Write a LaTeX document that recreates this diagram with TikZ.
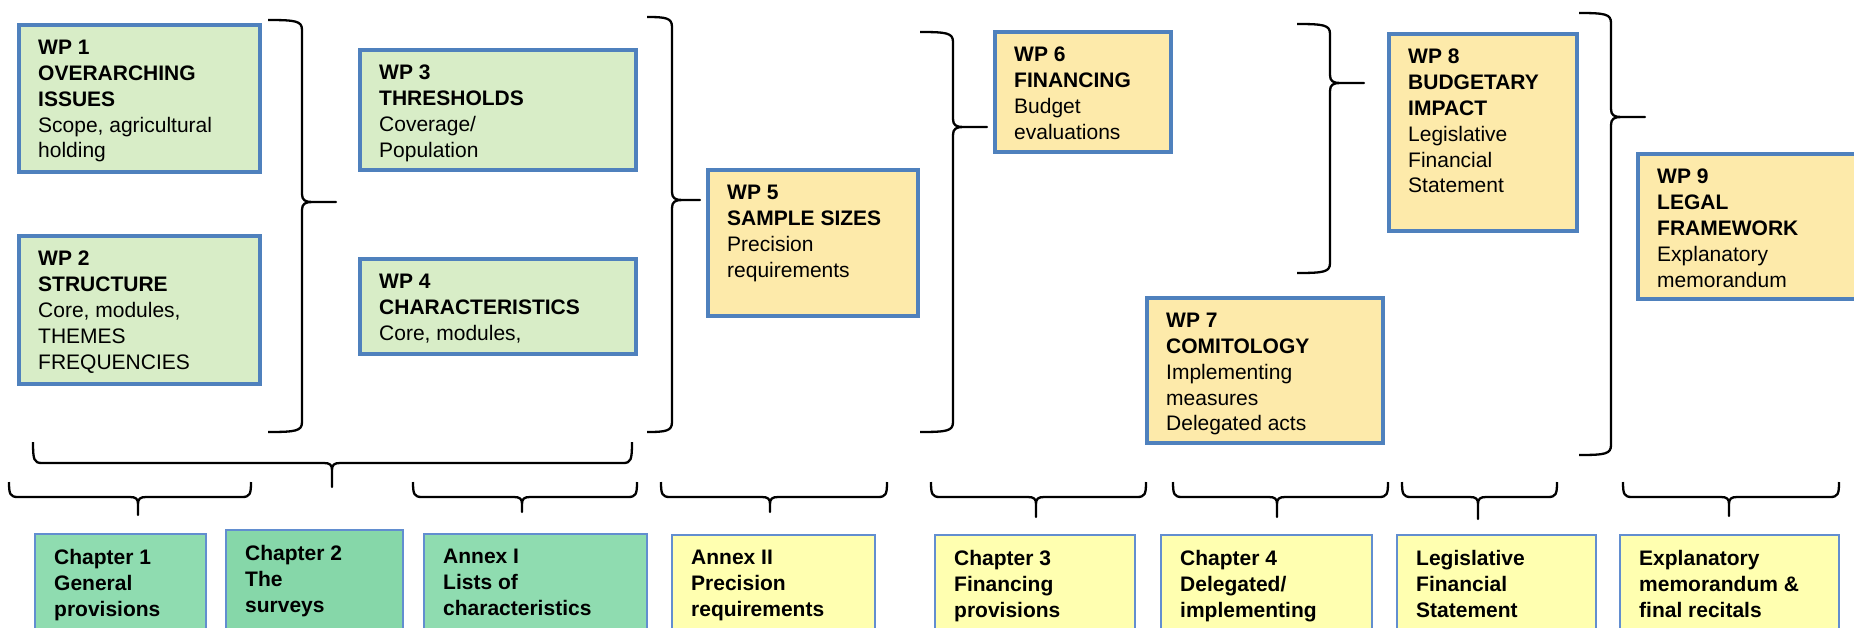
\documentclass[tikz,border=0pt]{standalone}
\usepackage{tikz}
\usepackage{fontspec}
\setmainfont{Liberation Sans}

\definecolor{wpblue}{RGB}{79,129,189}
\definecolor{wpgreen}{RGB}{216,237,199}
\definecolor{wpyellow}{RGB}{253,234,170}
\definecolor{chblue}{RGB}{98,142,208}
\definecolor{chgreen}{RGB}{143,220,176}
\definecolor{chgreendark}{RGB}{134,215,169}
\definecolor{chyellow}{RGB}{255,255,176}

% vertical brace: hook x, spine x, tip x, top y, tip y, bottom y
\newcommand{\wpbrace}[6]{%
  \draw[bracket] (#1,#4) .. controls ({#2-6},#4) and (#2,{#4+1}) .. (#2,{#4+10})
    -- (#2,{#5-8}) .. controls (#2,{#5-2}) and ({#2+3},#5) .. ({#2+10},#5) -- (#3,#5)
    -- ({#2+10},#5) .. controls ({#2+3},#5) and (#2,{#5+2}) .. (#2,{#5+8})
    -- (#2,{#6-10}) .. controls (#2,{#6-1}) and ({#2-6},#6) .. (#1,#6);}

% horizontal brace: left x, right x, tip x, top y, line y, tip y
\newcommand{\chbrace}[6]{%
  \draw[bracket] (#1,#4) .. controls (#1,{#5-3}) and ({#1+1},#5) .. ({#1+9},#5)
    -- ({#3-8},#5) .. controls ({#3-2},#5) and (#3,{#5+2}) .. (#3,{#5+7}) -- (#3,#6)
    -- (#3,{#5+7}) .. controls (#3,{#5+2}) and ({#3+2},#5) .. ({#3+8},#5)
    -- ({#2-9},#5) .. controls ({#2-1},#5) and (#2,{#5-3}) .. (#2,#4);}

\begin{document}
\begin{tikzpicture}[x=1pt,y=-1pt,
  wpbox/.style={draw=wpblue,line width=4pt,anchor=north west,inner sep=0pt,outer sep=0pt},
  chbox/.style={draw=chblue,line width=1.5pt,anchor=north west,inner sep=0pt,outer sep=0pt,
    minimum height=110pt},
  boxtext/.style={anchor=north west,align=left,inner sep=0pt,font=\fontsize{21}{25.8}\selectfont},
  bracket/.style={line width=2.3pt,line join=round}]

% Page
\useasboundingbox[fill=white] (0,0) rectangle (1854,627);
\clip (0,0) rectangle (1854,627);

% Work packages
\node[wpbox,fill=wpgreen,minimum width=241pt,minimum height=147pt] (wp1) at (19,25) {};
\node[boxtext] (wp1text) at ([shift={(19,15)}]wp1.north west)
  {\textbf{WP 1}\\\textbf{OVERARCHING}\\\textbf{ISSUES}\\Scope, agricultural\\holding};

\node[wpbox,fill=wpgreen,minimum width=241pt,minimum height=148pt] (wp2) at (19,236) {};
\node[boxtext] (wp2text) at ([shift={(19,15)}]wp2.north west)
  {\textbf{WP 2}\\\textbf{STRUCTURE}\\Core, modules,\\THEMES\\FREQUENCIES};

\node[wpbox,fill=wpgreen,minimum width=276pt,minimum height=120pt] (wp3) at (360,50) {};
\node[boxtext] (wp3text) at ([shift={(19,15)}]wp3.north west)
  {\textbf{WP 3}\\\textbf{THRESHOLDS}\\Coverage/\\Population};

\node[wpbox,fill=wpgreen,minimum width=276pt,minimum height=95pt] (wp4) at (360,259) {};
\node[boxtext] (wp4text) at ([shift={(19,15)}]wp4.north west)
  {\textbf{WP 4}\\\textbf{CHARACTERISTICS}\\Core, modules,};

\node[wpbox,fill=wpyellow,minimum width=210pt,minimum height=146pt] (wp5) at (708,170) {};
\node[boxtext] (wp5text) at ([shift={(19,15)}]wp5.north west)
  {\textbf{WP 5}\\\textbf{SAMPLE SIZES}\\Precision\\requirements};

\node[wpbox,fill=wpyellow,minimum width=176pt,minimum height=120pt] (wp6) at (995,32) {};
\node[boxtext] (wp6text) at ([shift={(19,15)}]wp6.north west)
  {\textbf{WP 6}\\\textbf{FINANCING}\\Budget\\evaluations};

\node[wpbox,fill=wpyellow,minimum width=236pt,minimum height=145pt] (wp7) at (1147,298) {};
\node[boxtext] (wp7text) at ([shift={(19,15)}]wp7.north west)
  {\textbf{WP 7}\\\textbf{COMITOLOGY}\\Implementing\\measures\\Delegated acts};

\node[wpbox,fill=wpyellow,minimum width=188pt,minimum height=197pt] (wp8) at (1389,34) {};
\node[boxtext] (wp8text) at ([shift={(19,15)}]wp8.north west)
  {\textbf{WP 8}\\\textbf{BUDGETARY}\\\textbf{IMPACT}\\Legislative\\Financial\\Statement};

\node[wpbox,fill=wpyellow,minimum width=260pt,minimum height=145pt] (wp9) at (1638,154) {};
\node[boxtext] (wp9text) at ([shift={(19,15)}]wp9.north west)
  {\textbf{WP 9}\\\textbf{LEGAL}\\\textbf{FRAMEWORK}\\Explanatory\\memorandum};

% Braces grouping the work packages
\wpbrace{268}{302}{336}{20}{202}{432}
\wpbrace{647}{672}{700}{17}{200}{432}
\wpbrace{920}{953}{987}{32}{127}{432}
\wpbrace{1297}{1330}{1364}{24}{83}{273}
\wpbrace{1579}{1611}{1645}{13}{117}{455}

% Braces over the parts of the act
\chbrace{33}{632}{332}{442}{463}{487}
\chbrace{9}{251}{138}{482}{497}{515}
\chbrace{413}{637}{522}{482}{497}{512}
\chbrace{661}{887}{770}{482}{497}{512}
\chbrace{931}{1146}{1036}{482}{497}{517}
\chbrace{1173}{1388}{1277}{482}{497}{517}
\chbrace{1402}{1557}{1478}{482}{497}{519}
\chbrace{1623}{1839}{1729}{482}{497}{516}

% Chapters and annexes
\node[chbox,fill=chgreen,minimum width=171pt] (ch1) at (35,534) {};
\node[boxtext,font=\fontsize{21}{25.8}\selectfont\bfseries] (ch1text) at ([shift={(19,15)}]ch1.north west)
  {Chapter 1\\General\\provisions};

\node[chbox,fill=chgreendark,minimum width=177pt] (ch2) at (226,530) {};
\node[boxtext,font=\fontsize{21}{25.8}\selectfont\bfseries] (ch2text) at ([shift={(19,15)}]ch2.north west)
  {Chapter 2\\The\\surveys};

\node[chbox,fill=chgreen,minimum width=223pt] (annex1) at (424,534) {};
\node[boxtext,font=\fontsize{21}{25.8}\selectfont\bfseries] (annex1text) at ([shift={(19,15)}]annex1.north west)
  {Annex I\\Lists of\\characteristics};

\node[chbox,fill=chyellow,minimum width=203pt] (annex2) at (672,535) {};
\node[boxtext,font=\fontsize{21}{25.8}\selectfont\bfseries] (annex2text) at ([shift={(19,15)}]annex2.north west)
  {Annex II\\Precision\\requirements};

\node[chbox,fill=chyellow,minimum width=200pt] (ch3) at (935,535) {};
\node[boxtext,font=\fontsize{21}{25.8}\selectfont\bfseries] (ch3text) at ([shift={(19,15)}]ch3.north west)
  {Chapter 3\\Financing\\provisions};

\node[chbox,fill=chyellow,minimum width=211pt] (ch4) at (1161,535) {};
\node[boxtext,font=\fontsize{21}{25.8}\selectfont\bfseries] (ch4text) at ([shift={(19,15)}]ch4.north west)
  {Chapter 4\\Delegated/\\implementing};

\node[chbox,fill=chyellow,minimum width=199pt] (lfs) at (1397,535) {};
\node[boxtext,font=\fontsize{21}{25.8}\selectfont\bfseries] (lfstext) at ([shift={(19,15)}]lfs.north west)
  {Legislative\\Financial\\Statement};

\node[chbox,fill=chyellow,minimum width=219pt] (expl) at (1620,535) {};
\node[boxtext,font=\fontsize{21}{25.8}\selectfont\bfseries] (expltext) at ([shift={(19,15)}]expl.north west)
  {Explanatory\\memorandum \&\\final recitals};

\end{tikzpicture}
\end{document}
